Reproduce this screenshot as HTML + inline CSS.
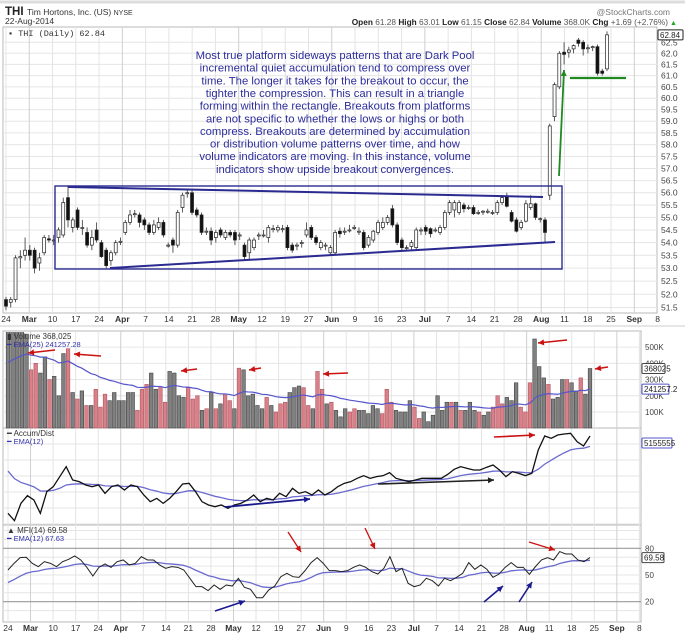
<!DOCTYPE html>
<html><head><meta charset="utf-8"><style>
html,body{margin:0;padding:0;background:#fff;}
svg{display:block;font-family:"Liberation Sans",Arial,sans-serif;}
</style></head><body>
<svg id="chart" width="685" height="633" viewBox="0 0 685 633" xmlns="http://www.w3.org/2000/svg">
<rect x="0" y="0" width="685" height="633" fill="#fff"/>
<line x1="0" y1="2" x2="685" y2="2" stroke="#ddd" stroke-width="3"/>
<g id="header">
<text x="5" y="15" font-size="11.5" font-weight="bold" fill="#222">THI</text>
<text x="27" y="15" font-size="8.5" fill="#333">Tim Hortons, Inc. (US) <tspan font-size="7">NYSE</tspan></text>
<text x="5" y="24" font-size="8.5" fill="#333">22-Aug-2014</text>
<text x="670" y="15" font-size="8.5" fill="#777" text-anchor="end">@StockCharts.com</text>
<text x="668" y="25" font-size="8.3" fill="#555" text-anchor="end"><tspan font-weight="bold" fill="#222">Open</tspan> 61.28 <tspan font-weight="bold" fill="#222">High</tspan> 63.01 <tspan font-weight="bold" fill="#222">Low</tspan> 61.15 <tspan font-weight="bold" fill="#222">Close</tspan> 62.84 <tspan font-weight="bold" fill="#222">Volume</tspan> 368.0K <tspan font-weight="bold" fill="#222">Chg</tspan> +1.69 (+2.76%)</text>
<text x="670" y="25" font-size="7" fill="#2a2">▲</text>
</g>
<g id="grid"></g>
<g id="marks"></g>
<g id="overlay"></g>
</svg>
<script>
// ---------- DATA ----------
const opens=[51.8,51.7,51.8,53.4,53.5,53.7,53.7,53.2,53.6,54.15,54.1,54.2,54.3,55.8,54.6,55.3,54.6,54.4,53.9,54.5,54.0,53.7,53.3,53.6,54.05,54.4,54.8,55.15,55.1,54.9,54.7,54.4,54.6,54.8,53.9,54.1,53.9,55.4,56.0,56.0,55.3,55.1,54.45,54.45,54.2,54.5,54.2,54.4,54.4,54.3,53.9,53.6,53.8,54.3,54.3,54.2,54.55,54.5,54.55,54.6,53.9,53.9,54.0,54.3,54.6,54.2,53.8,53.9,53.6,53.6,54.45,54.45,54.5,54.6,54.45,54.4,53.9,54.1,54.4,54.6,54.8,55.35,54.7,54.1,53.8,53.85,53.8,54.5,54.6,54.55,54.5,54.4,54.6,55.2,55.3,55.2,55.5,55.4,55.4,55.2,55.25,55.25,55.2,55.2,55.6,55.85,55.2,54.9,54.6,54.85,55.4,55.55,54.95,54.9,55.9,59.2,60.5,62.05,62.05,62.2,62.6,62.5,62.25,62.3,62.3,61.2,61.3];
const highs=[51.9,51.9,53.5,53.7,54.2,53.9,53.8,53.6,54.3,54.3,54.3,54.6,55.8,56.3,55.0,55.4,54.9,54.6,54.5,54.8,54.1,53.8,53.7,54.1,54.2,54.9,55.3,55.3,55.2,55.0,54.8,54.9,55.0,54.9,54.0,54.2,55.3,56.0,56.1,56.1,55.4,55.2,54.6,54.6,54.5,54.6,54.5,54.5,54.5,54.4,54.0,54.2,54.2,54.4,54.5,54.7,54.7,54.7,54.7,54.7,54.0,54.0,54.1,54.8,54.7,54.3,54.1,54.0,53.9,54.5,54.6,54.6,54.7,54.7,54.6,54.5,54.3,54.5,54.9,55.0,55.1,55.5,54.8,54.2,53.9,54.1,54.6,54.6,54.7,54.6,54.6,54.7,55.3,55.7,55.7,55.7,55.6,55.5,55.5,55.3,55.3,55.35,55.3,55.7,55.9,56.0,55.3,55.0,54.9,55.7,55.9,55.6,55.0,55.0,58.9,60.7,62.1,62.5,62.3,62.4,62.7,62.6,62.4,62.35,62.4,61.3,63.0];
const lows=[51.4,51.5,51.7,53.0,53.3,53.3,52.8,52.9,53.5,54.0,53.9,54.0,54.2,54.6,54.4,54.5,54.3,53.8,53.7,54.0,53.4,53.0,53.1,53.5,53.9,54.3,54.7,55.0,54.6,54.5,54.3,54.3,54.5,54.2,53.8,53.6,53.8,55.2,55.8,55.1,55.0,54.3,54.3,53.9,54.0,54.2,54.1,54.2,53.9,54.1,53.3,53.3,53.7,54.1,54.2,54.0,54.4,54.4,54.4,53.7,53.6,53.7,53.8,54.2,54.1,53.9,53.7,53.7,53.5,53.5,54.2,54.3,54.4,54.5,54.3,53.7,53.8,54.0,54.3,54.5,54.7,54.6,53.9,53.7,53.7,53.7,53.7,54.3,54.3,54.2,54.4,54.3,54.5,55.1,55.0,55.1,55.2,55.3,55.1,55.1,55.1,55.15,55.1,55.1,55.5,55.4,54.8,54.4,54.5,54.8,55.3,54.9,54.8,54.0,55.7,59.0,60.4,61.5,61.8,62.0,62.3,61.9,62.0,62.1,61.0,61.0,61.2];
const closes=[51.55,51.8,53.4,53.45,53.7,53.5,53.0,53.4,54.2,54.1,54.1,54.5,55.6,54.9,54.9,54.6,54.6,53.9,54.2,54.1,53.45,53.1,53.6,54.0,54.05,54.8,55.1,55.15,54.8,54.7,54.4,54.7,54.8,54.3,53.9,53.9,55.2,55.9,56.0,55.2,55.1,54.4,54.45,54.1,54.4,54.3,54.4,54.3,54.1,54.3,53.45,54.1,54.1,54.3,54.3,54.6,54.55,54.6,54.55,53.8,53.7,53.9,54.0,54.5,54.2,54.0,54.0,53.9,53.8,54.4,54.35,54.45,54.5,54.6,54.45,53.8,54.2,54.45,54.8,54.8,55.0,54.7,54.0,53.8,53.8,54.0,54.5,54.5,54.45,54.35,54.5,54.6,55.2,55.6,55.6,55.6,55.35,55.4,55.15,55.2,55.25,55.25,55.2,55.6,55.8,55.45,54.85,54.45,54.8,55.55,55.55,55.0,54.95,54.4,58.8,60.6,62.0,61.95,62.15,62.35,62.45,62.2,62.25,62.3,61.1,61.1,62.84];
const volumesK=[600,600,600,600,580,360,400,340,440,300,320,200,460,490,220,180,230,140,140,240,130,210,170,220,170,170,220,220,110,240,270,340,240,250,160,350,340,200,190,250,180,200,110,120,220,120,150,210,170,120,370,360,200,210,140,120,190,140,100,150,160,220,250,260,250,140,120,350,240,150,160,110,70,120,100,120,110,110,90,140,120,90,240,160,110,100,100,170,130,60,100,40,80,200,110,160,160,160,110,110,160,110,100,80,100,130,200,150,190,170,280,130,100,280,550,380,310,270,180,190,300,300,280,230,310,210,368];
const volEmaSeedK=390;
const accDist=[5,2.8,8,10.3,9,5,11.5,13,16,19,15,14.5,13.5,13,13.5,11,13,13.5,12,13.5,13,10.5,8.5,9.5,8,9.5,11.5,13.8,14,11.5,8.5,7.5,7,7.5,6.5,7.5,8,9,10.5,8.5,9.5,9,11,10,12.5,11,11.5,10.5,12,10.5,11.5,13,14,14.5,15.5,16.3,15.5,16,16.3,17.2,15.5,15,14.5,15,15.5,15.5,15.5,15.5,16.7,18.2,19,18.5,18,18,18.8,19.5,18,16,17.5,17,16.3,17,24,28.2,27.5,28.5,28.8,29,26.5,25.2,28.2];
const adEmaSeed=20;
const mfi=[55.6,63.1,69.5,69.9,63.1,59.4,65,63.1,59.4,65,67.6,71.4,66.9,58.6,48.9,58.6,62.4,58.6,65,66.9,61.3,63.1,70.6,66.9,66.9,61.3,57.5,59.4,58.6,55.6,46.3,36.9,36.9,32.4,38.8,33.9,38.8,37.6,46.3,36.1,33.9,24.5,24.5,33.1,37.6,48.1,51.9,48.1,47.4,54.9,63.9,69.5,63.1,54.9,54.9,53.8,54.9,58.6,61.3,58.6,53.8,51.1,57.5,70.6,53.8,57.5,40.6,36.9,38.8,46.3,43.6,37.6,46.3,43.6,47.4,51.9,63.9,56.4,61.3,56.4,47.4,51.1,58.6,63.9,58.6,58.6,50.8,59.4,66.9,69.5,66.9,76.3,73.6,73.6,66.9,65,69.6];
const mfiEmaSeed=39;
const priceTicks=[51.5,52.0,52.5,53.0,53.5,54.0,54.5,55.0,55.5,56.0,56.5,57.0,57.5,58.0,58.5,59.0,59.5,60.0,60.5,61.0,61.5,62.0,62.5];
const volTicksK=[100,200,300,400,500];
const mfiTicks=[20,50,80];
const weekLabels=['24','Mar','10','17','24','Apr','7','14','21','28','May','12','19','27','Jun','9','16','23','Jul','7','14','21','28','Aug','11','18','25','Sep','8'];
const monthLabels=['Mar','Apr','May','Jun','Jul','Aug','Sep'];
const annotation=["Most true platform sideways patterns that are Dark Pool","incremental quiet accumulation tend to compress over","time. The longer it takes for the breakout to occur, the","tighter the compression. This can result in a triangle","forming within the rectangle. Breakouts from platforms","are not specific to whether the lows or highs or both","compress. Breakouts are determined by accumulation","or distribution volume patterns over time, and how","volume indicators are moving. In this instance, volume","indicators show upside breakout convergences."];

// ---------- AXES ----------
const NS="http://www.w3.org/2000/svg";
const TOP={x0:3,x1:657,y0:27,y1:313};
const LOW={x0:3,x1:641};
const VOL={y0:331,y1:428};
const AD={y0:428,y1:525};
const MF={y0:525,y1:622};
function xTop(i,n){return 6+i*(601/(n-1));}
function xLow(i,n){return 8+i*(582/(n-1));}
function yPrice(p){return 53.3+(Math.log(62)-Math.log(p))*1370;}
function yVol(v){return 428.2-v*0.1622;}
function yAD(v){return 330+(600-v*10)/3;}
function yMFI(v){return 548.3-(v-80)*0.89;}
function wkTop(k){return 6+k*23.27;}
function wkLow(k){return 8+k*22.55;}
function mk(tag,attrs,parent){const e=document.createElementNS(NS,tag);for(const k in attrs)e.setAttribute(k,attrs[k]);parent.appendChild(e);return e;}
function ema(arr,period,seed){const a=2/(period+1);let e=seed;return arr.map(v=>(e=e+a*(v-e)));}
const grid=document.getElementById('grid');
const marks=document.getElementById('marks');
const over=document.getElementById('overlay');

[[TOP.x0,TOP.y0,TOP.x1,TOP.y1],[LOW.x0,VOL.y0,LOW.x1,VOL.y1],[LOW.x0,AD.y0,LOW.x1,AD.y1],[LOW.x0,MF.y0,LOW.x1,MF.y1]].forEach((r,pi)=>{
  const rc=mk('rect',{x:r[0],y:r[1],width:r[2]-r[0],height:r[3]-r[1],fill:'#fff',stroke:'#b8b8b8','stroke-width':1},grid);
  
  
});
priceTicks.forEach(p=>{const y=yPrice(p);
  mk('line',{x1:TOP.x0,x2:TOP.x1,y1:y,y2:y,stroke:'#e6e6e6','stroke-width':1},grid);
  const t=mk('text',{x:661,y:y+3,'font-size':8.5,fill:'#444'},grid);t.textContent=p.toFixed(1);
  
  
});
volTicksK.forEach(v=>{const y=yVol(v);
  mk('line',{x1:LOW.x0,x2:LOW.x1,y1:y,y2:y,stroke:'#e6e6e6'},grid);
  const t=mk('text',{x:645,y:y+3,'font-size':8,fill:'#444'},grid);t.textContent=v+'K';
  
  
});
for(let y=AD.y0+16;y<AD.y1;y+=16){mk('line',{x1:LOW.x0,x2:LOW.x1,y1:y,y2:y,stroke:'#e6e6e6'},grid);}
for(let v=10;v<=100;v+=10){if(v===20||v===80)continue;const y=yMFI(v);if(y>MF.y0&&y<MF.y1)mk('line',{x1:LOW.x0,x2:LOW.x1,y1:y,y2:y,stroke:'#e6e6e6'},grid);}
weekLabels.forEach((lab,k)=>{
  const isM=monthLabels.includes(lab);
  const xt=wkTop(k),xl=wkLow(k);
  if(xt<=TOP.x1) mk('line',{x1:xt,x2:xt,y1:TOP.y0,y2:TOP.y1,stroke:isM?'#cfcfcf':'#e4e4e4'},grid);
  if(xl<=LOW.x1){[VOL,AD,MF].forEach(P=>mk('line',{x1:xl,x2:xl,y1:P.y0,y2:P.y1,stroke:isM?'#cfcfcf':'#e4e4e4'},grid));}
  const t1=mk('text',{x:xt,y:322,'font-size':8.5,'text-anchor':'middle',fill:'#333','font-weight':isM?'bold':'normal'},grid);t1.textContent=lab;
  
  
  const t2=mk('text',{x:xl,y:631,'font-size':8.5,'text-anchor':'middle',fill:'#333','font-weight':isM?'bold':'normal'},grid);t2.textContent=lab;
  
  
});
mk('line',{x1:0,x2:685,y1:326,y2:326,stroke:'#ccc'},grid);
mfiTicks.forEach(v=>{const y=yMFI(v);
  if(v!==50) mk('line',{x1:LOW.x0,x2:LOW.x1,y1:y,y2:y,stroke:'#999','stroke-width':1.2},grid);
  const t=mk('text',{x:645,y:y+3,'font-size':8,fill:'#444'},grid);t.textContent=v;
  
  
});

// ---------- CANDLES ----------
const n=closes.length;
const cw=3;
for(let i=0;i<n;i++){
  const x=xTop(i,n);const o=opens[i],c=closes[i];
  const g=mk('g',{},marks);
  
  
  mk('line',{x1:x,x2:x,y1:yPrice(highs[i]),y2:yPrice(lows[i]),stroke:'#333','stroke-width':0.8},g);
  const yt=yPrice(Math.max(o,c)),yb=yPrice(Math.min(o,c));
  mk('rect',{x:x-cw/2,y:yt,width:cw,height:Math.max(1,yb-yt),fill:c<o?'#111':'#fff',stroke:'#222','stroke-width':0.7},g);
}

// ---------- VOLUME ----------
const nv=volumesK.length;
const volClip=mk('clipPath',{id:'vclip'},marks);mk('rect',{x:LOW.x0,y:VOL.y0+1,width:LOW.x1-LOW.x0,height:VOL.y1-VOL.y0},volClip);
const vg=mk('g',{'clip-path':'url(#vclip)'},marks);
for(let i=0;i<nv;i++){
  const x=xLow(i,nv);const y=yVol(volumesK[i]);
  const down=i>0&&i<n&&closes[i]<closes[i-1];
  const b=mk('rect',{x:x-1.8,y:y,width:3.6,height:VOL.y1-y,fill:down?'#d98088':'#808080',stroke:down?'#b05560':'#444','stroke-width':0.6},vg);
  
  
}
const vE=ema(volumesK,25,volEmaSeedK);
const vl=mk('polyline',{points:vE.map((v,i)=>xLow(i,nv)+','+yVol(v)).join(' '),fill:'none',stroke:'#5555cc','stroke-width':1.2},marks);



// ---------- ACCUM/DIST ----------
const na=accDist.length;
const adE=ema(accDist,12,adEmaSeed);
const ae=mk('polyline',{points:adE.map((v,i)=>xLow(i,na)+','+yAD(v)).join(' '),fill:'none',stroke:'#6a6ad0','stroke-width':1.3},marks);


const al=mk('polyline',{points:accDist.map((v,i)=>xLow(i,na)+','+yAD(v)).join(' '),fill:'none',stroke:'#111','stroke-width':1.3},marks);



// ---------- MFI ----------
const nm=mfi.length;
const mE=ema(mfi,12,mfiEmaSeed);
const me=mk('polyline',{points:mE.map((v,i)=>xLow(i,nm)+','+yMFI(v)).join(' '),fill:'none',stroke:'#6a6ad0','stroke-width':1.3},marks);


const ml=mk('polyline',{points:mfi.map((v,i)=>xLow(i,nm)+','+yMFI(v)).join(' '),fill:'none',stroke:'#222','stroke-width':1},marks);



// ---------- LABELS / TAGS ----------
function label(x,y,txt,col,name,size){const t=mk('text',{x:x,y:y,'font-size':size||8,fill:col},over);t.textContent=txt;
  
  return t;}
label(8,36,'▪ THI (Daily) 62.84','#333','price-legend',8.5).setAttribute('font-family','"Liberation Mono",monospace');
label(7,339,'▮ Volume 368,025','#333','volume-legend',8);
label(7,347,'━ EMA(25) 241257.28','#3333aa','volume-ema-legend',7.5);
label(7,436,'━ Accum/Dist','#333','accum-dist-legend',8);
label(7,444,'━ EMA(12)','#3333aa','accum-dist-ema-legend',7.5);
label(7,533,'▲ MFI(14) 69.58','#333','mfi-legend',8);
label(7,541,'━ EMA(12) 67.63','#3333aa','mfi-ema-legend',7.5);
function tag(x,y,w,txt,col,name){const g=mk('g',{},over);
  
  
  mk('rect',{x:x,y:y-5,width:w,height:10,fill:'#fff',stroke:col,'stroke-width':1,rx:1},g);
  const t=mk('text',{x:x+2,y:y+3,'font-size':8,fill:'#222'},g);t.textContent=txt;}
tag(658,yPrice(62.84),25,'62.84','#222','last-price-tag');
tag(642,yVol(368),23,'368025','#444','last-volume-tag');
tag(642,yVol(241),27,'241257.2','#5555cc','volume-ema-tag');
tag(642,443,30,'5155555','#5555cc','accum-dist-tag');
tag(642,yMFI(69.58),22,'69.58','#444','mfi-tag');

// ---------- ANNOTATIONS ----------
const an=mk('g',{},over);


annotation.forEach((s,i)=>{const t=mk('text',{x:335,y:59+i*12.65,'font-size':11.3,'text-anchor':'middle',fill:'#2c2c9c'},an);t.textContent=s;});
function ln(x1,y1,x2,y2,col,w,name){const l=mk('line',{x1:x1,y1:y1,x2:x2,y2:y2,stroke:col,'stroke-width':w},over);
  
  }
const rr=mk('rect',{x:55,y:186,width:507,height:83,fill:'none',stroke:'#2a2a90','stroke-width':1.4},over);


ln(68,187,543,197,'#2a2a90',2,'upper-trendline');
ln(110,268,555,242,'#2a2a90',2,'lower-trendline');
ln(626,78,570,78,'#1f8a1f',2.2,'support-line');
function arrow(x1,y1,x2,y2,col,w,name){const g=mk('g',{},over);
  
  
  mk('line',{x1:x1,y1:y1,x2:x2,y2:y2,stroke:col,'stroke-width':w},g);
  const a=Math.atan2(y2-y1,x2-x1),L=6,W=3;
  const bx=x2-L*Math.cos(a),by=y2-L*Math.sin(a);
  mk('polygon',{points:[x2+','+y2,(bx+W*Math.sin(a))+','+(by-W*Math.cos(a)),(bx-W*Math.sin(a))+','+(by+W*Math.cos(a))].join(' '),fill:col},g);}
arrow(559,176,564,70,'#1f8a1f',1.8,'breakout-arrow');
const red='#cc1111';
arrow(55,350,28,353,red,1.6,'volume-arrow');
arrow(101,356,74,354,red,1.6,'volume-arrow');
arrow(197,369,181,371,red,1.6,'volume-arrow');
arrow(261,368,249,370,red,1.6,'volume-arrow');
arrow(348,373,323,374,red,1.6,'volume-arrow');
arrow(567,340,538,343,red,1.6,'volume-arrow');
arrow(608,367,595,369,red,1.6,'volume-arrow');
arrow(494,437,535,435,red,1.6,'accum-dist-arrow');
arrow(378,484,494,480,'#222',1.6,'accum-dist-arrow');
arrow(225,507,310,499,'#1a1a90',1.8,'accum-dist-arrow');
arrow(288,532,301,552,red,1.3,'mfi-arrow');
arrow(365,528,375,549,red,1.3,'mfi-arrow');
arrow(529,542,555,550,red,1.3,'mfi-arrow');
arrow(215,611,245,601,'#1a1a90',1.6,'mfi-arrow');
arrow(484,602,503,586,'#1a1a90',1.6,'mfi-arrow');
arrow(519,602,532,582,'#1a1a90',1.6,'mfi-arrow');
</script>
</body></html>
